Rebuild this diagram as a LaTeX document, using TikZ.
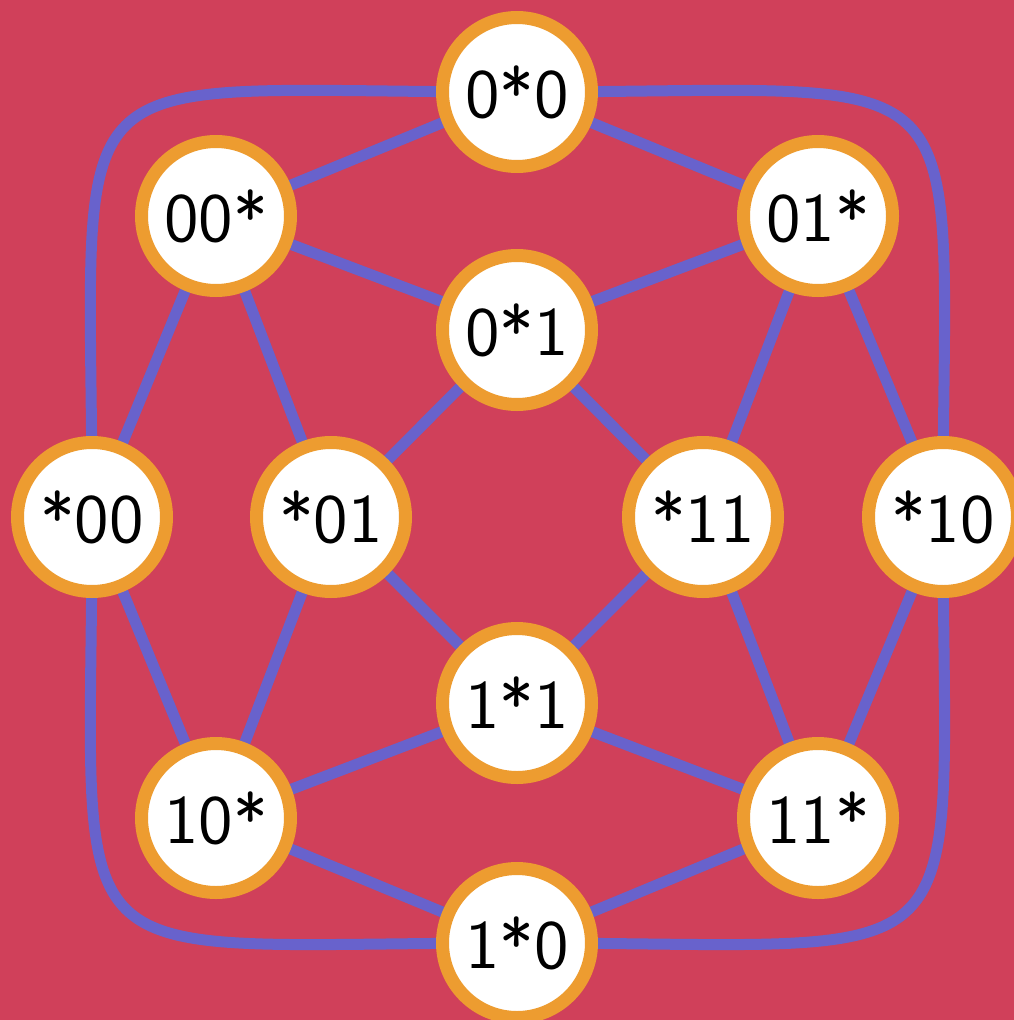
\documentclass[tikz,border=0pt]{standalone}
\usepackage{fontspec}
\newfontfamily\nodefont[Extension=.otf]{lmsans10-regular}
\definecolor{bgc}{RGB}{208,64,90}
\definecolor{orangec}{RGB}{237,156,48}
\definecolor{bluec}{RGB}{104,98,204}
\pgfdeclarelayer{bglayer}
\pgfdeclarelayer{edgelayer}
\pgfsetlayers{bglayer,edgelayer,main}
\tikzset{
  vert/.style={circle, draw=orangec, line width=13pt, fill=white,
    minimum size=149pt, inner sep=0pt,
    font=\nodefont\fontsize{69}{80}\selectfont},
  edge/.style={draw=bluec, line width=11pt}
}
\begin{document}
\begin{tikzpicture}[x=1pt,y=-1pt]
\useasboundingbox (0,0) rectangle (1014,1020);
\node[vert] (n0s0) at (517,92)  {0*0};
\node[vert] (n00s) at (216,216) {00*};
\node[vert] (n01s) at (818,216) {01*};
\node[vert] (n0s1) at (517,330) {0*1};
\node[vert] (ns00) at (92,517)  {*00};
\node[vert] (ns01) at (331,517) {*01};
\node[vert] (ns11) at (703,517) {*11};
\node[vert] (ns10) at (943,517) {*10};
\node[vert] (n1s1) at (517,703) {1*1};
\node[vert] (n10s) at (216,818) {10*};
\node[vert] (n11s) at (818,818) {11*};
\node[vert] (n1s0) at (517,943) {1*0};
\begin{pgfonlayer}{bglayer}
  \fill[bgc] (0,0) rectangle (1014,1020);
\end{pgfonlayer}
\begin{pgfonlayer}{edgelayer}
  \foreach \a/\b in {n0s0/n00s, n0s0/n01s, n00s/n0s1, n01s/n0s1,
                     n00s/ns00, n00s/ns01, n01s/ns11, n01s/ns10,
                     n0s1/ns01, n0s1/ns11, ns01/n1s1, ns11/n1s1,
                     ns00/n10s, ns01/n10s, ns11/n11s, ns10/n11s,
                     n10s/n1s1, n11s/n1s1, n10s/n1s0, n11s/n1s0}
    \draw[edge] (\a.center) -- (\b.center);
  \draw[edge] (n0s0.center) .. controls +(-477,0) and +(0,-477) .. (ns00.center);
  \draw[edge] (n0s0.center) .. controls +(477,0) and +(0,-477) .. (ns10.center);
  \draw[edge] (n1s0.center) .. controls +(-477,0) and +(0,477) .. (ns00.center);
  \draw[edge] (n1s0.center) .. controls +(477,0) and +(0,477) .. (ns10.center);
\end{pgfonlayer}
\end{tikzpicture}
\end{document}
